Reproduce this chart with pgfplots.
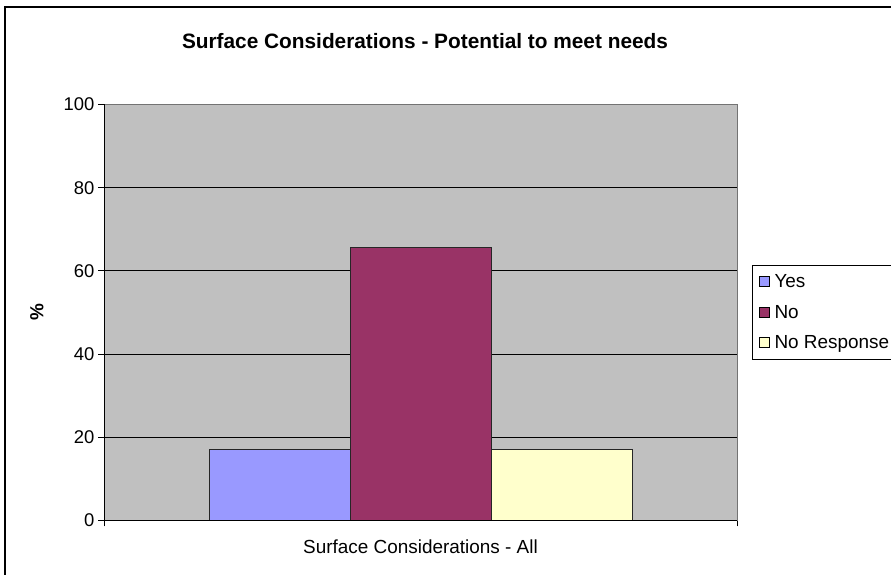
\documentclass[border=0pt]{standalone}
\usepackage{fontspec}
\setmainfont{Liberation Sans}
\usepackage{pgfplots}
\pgfplotsset{compat=1.18}
\definecolor{cyes}{HTML}{9999FF}
\definecolor{cno}{HTML}{993366}
\definecolor{cnr}{HTML}{FFFFCC}
\definecolor{plotbg}{HTML}{C0C0C0}
\begin{document}
\begin{tikzpicture}[x=1bp,y=1bp]
\useasboundingbox (0,0) rectangle (891,575);
\draw[black, line width=1.5bp] (5,-10) -- (5,568) -- (900,568);
\node[font=\bfseries\fontsize{20.9}{24}\selectfont, anchor=base] at (425,526) {Surface Considerations - Potential to meet needs};
\begin{axis}[
  at={(104bp,54.5bp)}, anchor=south west,
  scale only axis, width=633bp, height=416bp,
  ymin=0, ymax=100, ytick={0,20,40,60,80,100},
  xmin=-1, xmax=1, xtick={-1,1}, xticklabels={},
  ybar=0pt, bar width=141bp,
  axis background/.style={fill=plotbg},
  axis line style={draw=gray!90!black, line width=1bp},
  ymajorgrids, grid style={black, line width=0.8bp},
  tick align=outside, ytick pos=left, xtick pos=bottom,
  major tick length=6bp,
  tick style={black, line width=0.8bp},
  tick label style={font=\fontsize{18.5}{21}\selectfont},
  /pgf/number format/assume math mode=true,
  xlabel={Surface Considerations - All},
  xlabel style={font=\fontsize{19}{22}\selectfont, at={(axis description cs:0.5,-0.064)}, anchor=center},
  ylabel={\%},
  ylabel style={font=\bfseries\fontsize{19}{22}\selectfont, at={(axis description cs:-0.106,0.5)}, anchor=center, rotate=0},
  legend style={at={(axis description cs:1.0237,0.614)}, anchor=north west, draw=black, line width=1bp,
    font=\fontsize{19}{22}\selectfont, row sep=12bp, inner xsep=3bp, inner ysep=7bp, cells={anchor=west}},
  legend image code/.code={\draw[#1, draw=black, line width=0.8bp] (4bp,-5bp) rectangle (14bp,5bp); \path[draw=none, fill=none] (0bp,0bp) -- (17bp,0bp);},
  legend cell align=left,
]
\addplot[fill=cyes, draw=black!85, line width=1bp] coordinates {(0,17.1)};
\addplot[fill=cno, draw=black!85, line width=1bp] coordinates {(0,65.7)};
\addplot[fill=cnr, draw=black!85, line width=1bp] coordinates {(0,17.1)};
\legend{Yes,No,No Response}
\draw[black, line width=1bp] (rel axis cs:0,0) -- (rel axis cs:0,1);
\draw[black, line width=1bp] (rel axis cs:0,0) -- (rel axis cs:1,0);
\end{axis}
\end{tikzpicture}
\end{document}
